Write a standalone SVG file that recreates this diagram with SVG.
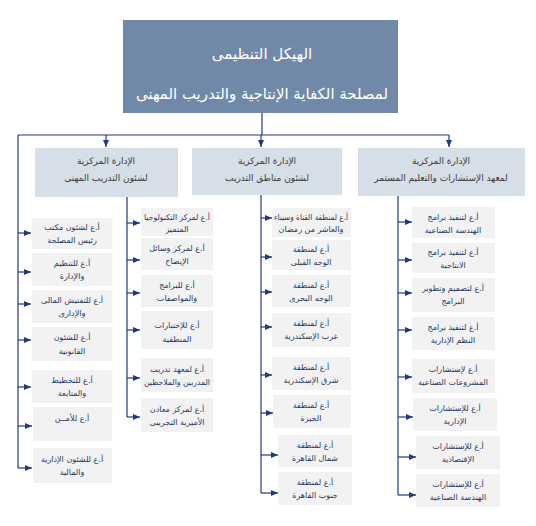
<svg xmlns="http://www.w3.org/2000/svg" width="536" height="526" viewBox="0 0 536 526">
<defs>
<style>
.bg{fill:#ffffff}
.top{fill:#7189A8}
.hdr{fill:#D6DEE7}
.box{fill:#F2F2F2}
.ttl{font-family:"DejaVu Sans",sans-serif;font-size:15px;fill:#ffffff;text-anchor:middle;direction:rtl}
.ht{font-family:"DejaVu Sans",sans-serif;font-size:9px;fill:#3a3a3a;text-anchor:middle;direction:rtl}
.t{font-family:"DejaVu Sans",sans-serif;font-size:8px;fill:#1F3864;text-anchor:middle;direction:rtl}
.ln{stroke:#22397A;stroke-width:1.2;fill:none}
.ar{stroke:#22397A;stroke-width:1.2;fill:none;marker-end:url(#ah)}
</style>
<marker id="ah" markerWidth="7" markerHeight="6" refX="7" refY="3" orient="auto" markerUnits="userSpaceOnUse">
<path d="M0,0 L7,3 L0,6 z" fill="#22397A"/>
</marker>
</defs>
<rect class="bg" x="0" y="0" width="536" height="526"/>

<g id="connectors">
<path class="ln" d="M262,113 V135 M18,135 H449 M18,135 V468 M127,197 V417 M261,195 V493 M398,196 V495"/>
<path class="ar" d="M106,135 V147"/>
<path class="ar" d="M261,135 V147"/>
<path class="ar" d="M449,135 V147"/>
<path class="ar" d="M18,233 H31"/>
<path class="ar" d="M18,272 H31"/>
<path class="ar" d="M18,304 H31"/>
<path class="ar" d="M18,340 H31"/>
<path class="ar" d="M18,387 H31"/>
<path class="ar" d="M18,426 H32"/>
<path class="ar" d="M18,468 H32"/>
<path class="ar" d="M127,223 H140"/>
<path class="ar" d="M127,260 H140"/>
<path class="ar" d="M127,293 H140"/>
<path class="ar" d="M127,330 H140"/>
<path class="ar" d="M127,378 H140"/>
<path class="ar" d="M127,417 H140"/>
<path class="ar" d="M261,218 H272"/>
<path class="ar" d="M261,257 H272"/>
<path class="ar" d="M261,292 H272"/>
<path class="ar" d="M261,327 H272"/>
<path class="ar" d="M261,375 H272"/>
<path class="ar" d="M261,413 H273"/>
<path class="ar" d="M261,455 H278"/>
<path class="ar" d="M261,493 H278"/>
<path class="ar" d="M398,222 H412"/>
<path class="ar" d="M398,260 H412"/>
<path class="ar" d="M398,293 H412"/>
<path class="ar" d="M398,330 H412"/>
<path class="ar" d="M398,377 H412"/>
<path class="ar" d="M398,417 H413"/>
<path class="ar" d="M398,457 H416"/>
<path class="ar" d="M398,495 H416"/>
</g>

<g id="top">
<rect class="top" x="123" y="20" width="275" height="93"/>
<text class="ttl" x="262" y="59">الهيكل التنظيمى</text>
<text class="ttl" x="262" y="99" textLength="252" lengthAdjust="spacingAndGlyphs">لمصلحة الكفاية الإنتاجية والتدريب المهنى</text>
</g>

<g id="hdr-left">
<rect class="hdr" x="35" y="148" width="143" height="49"/>
<text class="ht" x="106" y="164">الإدارة المركزية</text>
<text class="ht" x="106" y="181">لشئون التدريب المهنى</text>
</g>
<g id="hdr-mid">
<rect class="hdr" x="192" y="148" width="150" height="47"/>
<text class="ht" x="267" y="164">الإدارة المركزية</text>
<text class="ht" x="267" y="181">لشئون مناطق التدريب</text>
</g>
<g id="hdr-right">
<rect class="hdr" x="358" y="148" width="167" height="48"/>
<text class="ht" x="441" y="164">الإدارة المركزية</text>
<text class="ht" x="441" y="181">لمعهد الإستشارات والتعليم المستمر</text>
</g>

<g id="l1"><rect class="box" x="32" y="218" width="80" height="31"/><text class="t" x="72" y="230">أ.ع لشئون مكتب</text><text class="t" x="72" y="243">رئيس المصلحة</text></g>
<g id="l2"><rect class="box" x="32" y="253" width="80" height="33"/><text class="t" x="72" y="266">أ.ع للتنظيم</text><text class="t" x="72" y="279">والإدارة</text></g>
<g id="l3"><rect class="box" x="32" y="290" width="80" height="33"/><text class="t" x="72" y="303">أ.ع للتفتيش المالى</text><text class="t" x="72" y="316">والإدارى</text></g>
<g id="l4"><rect class="box" x="32" y="327" width="80" height="34"/><text class="t" x="72" y="340">أ.ع للشئون</text><text class="t" x="72" y="354">القانونية</text></g>
<g id="l5"><rect class="box" x="32" y="370" width="80" height="33"/><text class="t" x="72" y="383">أ.ع للتخطيط</text><text class="t" x="72" y="396">والمتابعة</text></g>
<g id="l6"><rect class="box" x="33" y="407" width="79" height="34"/><text class="t" x="72" y="421">أ.ع للأمــن</text></g>
<g id="l7"><rect class="box" x="33" y="448" width="79" height="35"/><text class="t" x="72" y="462">أ.ع للشئون الإدارية</text><text class="t" x="72" y="475">والمالية</text></g>

<g id="c1"><rect class="box" x="141" y="208" width="72" height="28"/><text class="t" x="177" y="220" textLength="66" lengthAdjust="spacingAndGlyphs">أ.ع لمركز التكنولوجيا</text><text class="t" x="177" y="232">المتميز</text></g>
<g id="c2"><rect class="box" x="141" y="238" width="72" height="32"/><text class="t" x="177" y="251">أ.ع لمركز وسائل</text><text class="t" x="177" y="264">الإيضاح</text></g>
<g id="c3"><rect class="box" x="141" y="275" width="72" height="32"/><text class="t" x="177" y="288">أ.ع للبرامج</text><text class="t" x="177" y="301">والمواصفات</text></g>
<g id="c4"><rect class="box" x="141" y="311" width="72" height="38"/><text class="t" x="177" y="328">أ.ع للإختبارات</text><text class="t" x="177" y="342">المنطقية</text></g>
<g id="c5"><rect class="box" x="141" y="358" width="72" height="34"/><text class="t" x="177" y="372">أ.ع لمعهد تدريب</text><text class="t" x="177" y="385" textLength="66" lengthAdjust="spacingAndGlyphs">المدربين والملاحظين</text></g>
<g id="c6"><rect class="box" x="141" y="398" width="72" height="34"/><text class="t" x="177" y="412">أ.ع لمركز معادن</text><text class="t" x="177" y="425">الأميرية التجريبى</text></g>

<g id="m1"><rect class="box" x="272" y="208" width="79" height="29"/><text class="t" x="311" y="220" textLength="74" lengthAdjust="spacingAndGlyphs">أ.ع لمنطقة القناة وسيناء</text><text class="t" x="311" y="232">والعاشر من رمضان</text></g>
<g id="m2"><rect class="box" x="272" y="240" width="79" height="30"/><text class="t" x="311" y="252">أ.ع لمنطقة</text><text class="t" x="311" y="265">الوجه القبلى</text></g>
<g id="m3"><rect class="box" x="272" y="275" width="79" height="32"/><text class="t" x="311" y="288">أ.ع لمنطقة</text><text class="t" x="311" y="301">الوجه البحرى</text></g>
<g id="m4"><rect class="box" x="272" y="313" width="79" height="34"/><text class="t" x="311" y="326">أ.ع لمنطقة</text><text class="t" x="311" y="339">غرب الإسكندرية</text></g>
<g id="m5"><rect class="box" x="272" y="357" width="79" height="33"/><text class="t" x="311" y="370">أ.ع لمنطقة</text><text class="t" x="311" y="383">شرق الإسكندرية</text></g>
<g id="m6"><rect class="box" x="273" y="395" width="78" height="33"/><text class="t" x="311" y="408">أ.ع لمنطقة</text><text class="t" x="311" y="421">الجيزة</text></g>
<g id="m7"><rect class="box" x="278" y="435" width="74" height="32"/><text class="t" x="315" y="448">أ.ع لمنطقة</text><text class="t" x="315" y="461">شمال القاهرة</text></g>
<g id="m8"><rect class="box" x="278" y="472" width="74" height="33"/><text class="t" x="315" y="485">أ.ع لمنطقة</text><text class="t" x="315" y="498">جنوب القاهرة</text></g>

<g id="r1"><rect class="box" x="412" y="207" width="83" height="31"/><text class="t" x="453" y="220">أ.ع لتنفيذ برامج</text><text class="t" x="453" y="233">الهندسة الصناعية</text></g>
<g id="r2"><rect class="box" x="412" y="243" width="83" height="30"/><text class="t" x="453" y="255">أ.ع لتنفيذ برامج</text><text class="t" x="453" y="268">الانتاجية</text></g>
<g id="r3"><rect class="box" x="412" y="278" width="83" height="34"/><text class="t" x="453" y="291">أ.ع لتصميم وتطوير</text><text class="t" x="453" y="304">البرامج</text></g>
<g id="r4"><rect class="box" x="412" y="317" width="83" height="33"/><text class="t" x="453" y="330">أ.ع لتنفيذ برامج</text><text class="t" x="453" y="343">النظم الإدارية</text></g>
<g id="r5"><rect class="box" x="412" y="359" width="83" height="34"/><text class="t" x="453" y="372">أ.ع لإستشارات</text><text class="t" x="453" y="385">المشروعات الصناعية</text></g>
<g id="r6"><rect class="box" x="413" y="398" width="84" height="33"/><text class="t" x="455" y="411">أ.ع للإستشارات</text><text class="t" x="455" y="424">الإدارية</text></g>
<g id="r7"><rect class="box" x="416" y="436" width="84" height="33"/><text class="t" x="458" y="449">أ.ع للإستشارات</text><text class="t" x="458" y="462">الإقتصادية</text></g>
<g id="r8"><rect class="box" x="416" y="474" width="84" height="33"/><text class="t" x="458" y="487">أ.ع للإستشارات</text><text class="t" x="458" y="500">الهندسة الصناعية</text></g>
</svg>
